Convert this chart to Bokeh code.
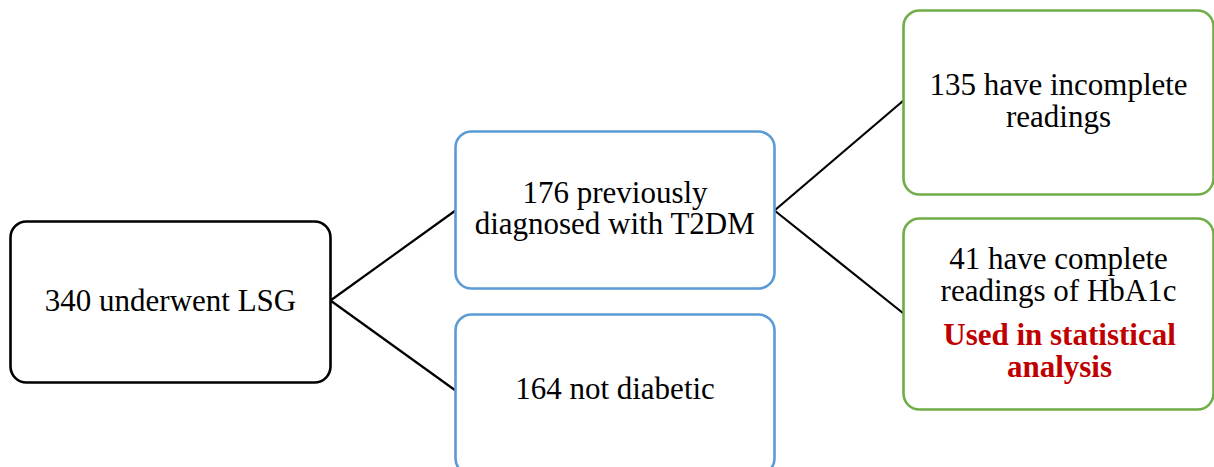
from bokeh.plotting import figure
from bokeh.models import Range1d, ColumnDataSource
from bokeh.core.properties import value
from bokeh.embed import file_html
from bokeh.resources import INLINE

# ---- data ----
total = 340
t2dm = 176
not_diabetic = 164
incomplete = 135
complete = 41

node_ids = ["all", "t2dm", "nondiab", "incomplete", "complete"]
node_lines = [
    [f"{total} underwent LSG"],
    [f"{t2dm} previously", "diagnosed with T2DM"],
    [f"{not_diabetic} not diabetic"],
    [f"{incomplete} have incomplete", "readings"],
    [f"{complete} have complete", "readings of HbA1c"],
]
highlight_lines = ["Used in statistical", "analysis"]
edges = [("all", "t2dm"), ("all", "nondiab"), ("t2dm", "incomplete"), ("t2dm", "complete")]

# ---- layout (pixel coordinates of the page) ----
W, H = 1214, 467
boxes = {
    "all":        (10, 330, 221, 382),
    "t2dm":       (455, 774, 131, 288),
    "nondiab":    (455, 774, 314, 474),
    "incomplete": (903, 1213, 10, 194),
    "complete":   (903, 1213, 218, 409),
}
colors = {
    "all": "#000000",
    "t2dm": "#5B9BD5",
    "nondiab": "#5B9BD5",
    "incomplete": "#70AD47",
    "complete": "#70AD47",
}
line_y = {
    "all": [300],
    "t2dm": [192, 223],
    "nondiab": [388],
    "incomplete": [84, 116],
    "complete": [258, 290],
}
highlight_y = [334, 366]
anchor_y = {"all": 300, "t2dm": 210, "nondiab": 390, "incomplete": 100, "complete": 313}

p = figure(width=W, height=H, output_backend="svg", toolbar_location=None,
           x_range=Range1d(0, W), y_range=Range1d(H, 0),
           min_border=0, min_border_left=0, min_border_right=0, min_border_top=0, min_border_bottom=0)
p.axis.visible = False
p.grid.visible = False
p.outline_line_color = None
p.background_fill_color = "white"
p.border_fill_color = "white"

# connectors
xs, ys = [], []
for a, b in edges:
    xs.append([boxes[a][1], boxes[b][0]])
    ys.append([anchor_y[a], anchor_y[b]])
p.multi_line(xs=xs, ys=ys, line_color="black", line_width=2.2)

# boxes
src = ColumnDataSource(dict(
    left=[boxes[k][0] for k in node_ids],
    right=[boxes[k][1] for k in node_ids],
    top=[boxes[k][2] for k in node_ids],
    bottom=[boxes[k][3] for k in node_ids],
    color=[colors[k] for k in node_ids],
))
p.quad(left="left", right="right", top="top", bottom="bottom", source=src,
       fill_color="white", line_color="color", line_width=2.6, border_radius=16)

# texts
tx, ty, tt = [], [], []
for k, lines in zip(node_ids, node_lines):
    cx = (boxes[k][0] + boxes[k][1]) / 2
    if k in ("incomplete", "complete"):
        cx = 1058
    for ln, yy in zip(lines, line_y[k]):
        tx.append(cx); ty.append(yy); tt.append(ln)
p.text(x=tx, y=ty, text=tt, text_align="center", text_baseline="middle",
       text_font=value("Liberation Serif"), text_font_size="31px", text_color="black")

p.text(x=[1059] * len(highlight_lines), y=highlight_y, text=highlight_lines,
       text_align="center", text_baseline="middle",
       text_font=value("Liberation Serif"), text_font_style="bold",
       text_font_size="31px", text_color="#C00000")

open("out.html", "w").write(file_html(p, INLINE))
